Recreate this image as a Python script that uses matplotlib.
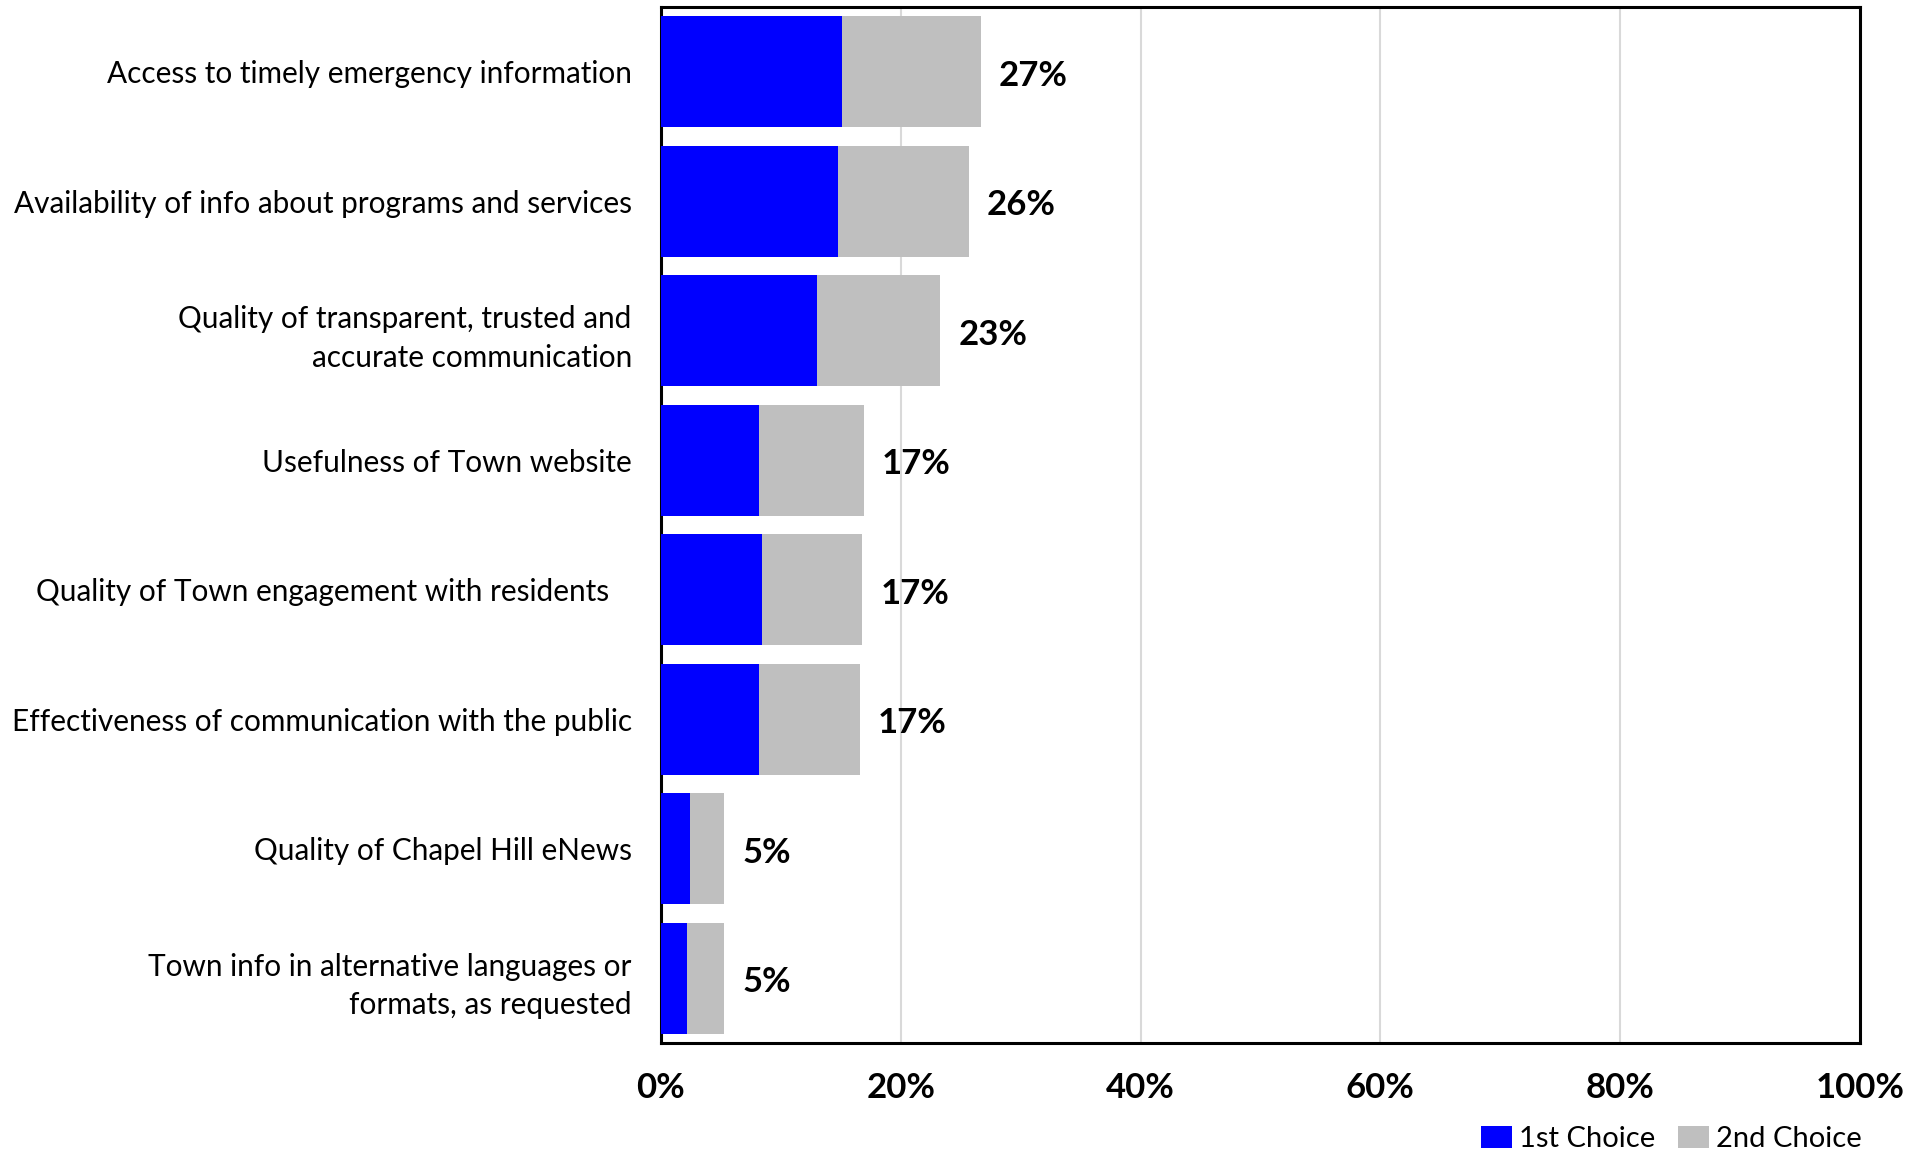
import matplotlib
matplotlib.use("Agg")
import matplotlib.pyplot as plt
from matplotlib.patches import Patch

plt.rcParams['font.family'] = ['Lato', 'DejaVu Sans']

categories = [
    "Access to timely emergency information",
    "Availability of info about programs and services",
    "Quality of transparent, trusted and\naccurate communication",
    "Usefulness of Town website",
    "Quality of Town engagement with residents   ",
    "Effectiveness of communication with the public",
    "Quality of Chapel Hill eNews",
    "Town info in alternative languages or\nformats, as requested",
]
first_choice = [15.1, 14.8, 13.0, 8.2, 8.4, 8.2, 2.4, 2.2]
second_choice = [11.6, 10.9, 10.3, 8.7, 8.4, 8.4, 2.9, 3.1]
x_ticks = [0, 20, 40, 60, 80, 100]
series_names = ["1st Choice", "2nd Choice"]

BLUE = "#0000FF"
GREY = "#BFBFBF"

fig = plt.figure(figsize=(19.23, 11.52), dpi=100)
ax = fig.add_axes([0.3437, 0.0946, 0.6235, 0.8993])

# stacked horizontal bars: 1st choice, then 2nd choice on top of it
y = list(range(len(categories)))
ax.barh(y, first_choice, height=0.857, color=BLUE, zorder=3)
ax.barh(y, second_choice, left=first_choice, height=0.857, color=GREY, zorder=3)

# combined total printed just past the end of each bar
for yi, a, b in zip(y, first_choice, second_choice):
    total = a + b
    ax.text(total + 1.5, yi + 0.03, f"{round(total)}%", va="center", ha="left",
            fontsize=25, fontweight="bold", color="black")

ax.set_xlim(0, 100)
ax.set_ylim(len(categories) - 0.5, -0.5)
ax.set_xticks(x_ticks)
ax.set_xticklabels([f"{t}%" for t in x_ticks], fontsize=25, fontweight="bold")
ax.set_yticks(y)
ax.set_yticklabels(categories, fontsize=21.4, linespacing=1.45)
ax.tick_params(axis="both", length=0)
ax.tick_params(axis="y", pad=21)
ax.tick_params(axis="x", pad=21)
ax.grid(axis="x", color="#D9D9D9", linewidth=1.5, zorder=0)
for s in ax.spines.values():
    s.set_linewidth(2.2)
    s.set_color("black")

handles = [Patch(facecolor=BLUE), Patch(facecolor=GREY)]
fig.legend(handles, series_names, loc="lower right", bbox_to_anchor=(0.982, -0.023),
           ncol=2, frameon=False, fontsize=21, handlelength=1.05, handleheight=0.8,
           handletextpad=0.25, columnspacing=0.8)

fig.savefig("out.png", dpi=100)
